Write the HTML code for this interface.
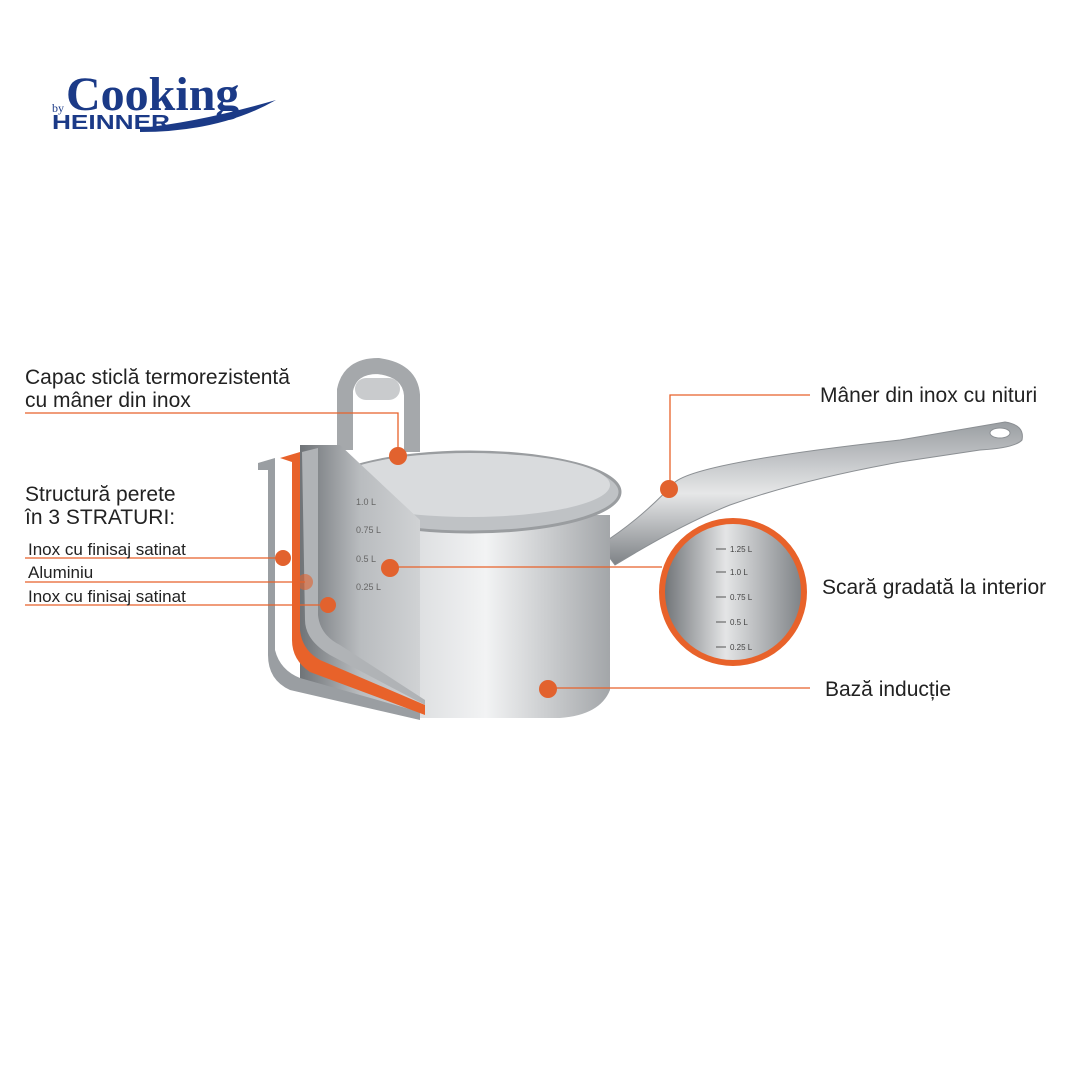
<!DOCTYPE html><html><head><meta charset="utf-8"><style>
body{margin:0;width:1080px;height:1080px;background:#fff;overflow:hidden;font-family:"Liberation Sans",sans-serif}
svg{position:absolute;left:0;top:0}
.t{font-size:21px;fill:#222}
</style></head><body>
<svg width="1080" height="1080" viewBox="0 0 1080 1080">
<defs>
<linearGradient id="steel" x1="0" x2="1" y1="0" y2="0">
<stop offset="0" stop-color="#8d9195"/><stop offset=".3" stop-color="#d6d8da"/><stop offset=".6" stop-color="#f2f3f4"/><stop offset="1" stop-color="#a3a6a9"/></linearGradient>
<linearGradient id="inner" x1="0" x2="1"><stop offset="0" stop-color="#6f7377"/><stop offset=".5" stop-color="#b9bcbf"/><stop offset="1" stop-color="#d0d2d4"/></linearGradient>
<linearGradient id="hd" x1="0" y1="1" x2="0" y2="0"><stop offset="0" stop-color="#7e8286"/><stop offset=".5" stop-color="#e6e7e8"/><stop offset="1" stop-color="#9a9ea2"/></linearGradient>
<linearGradient id="circ" x1="0" x2="1"><stop offset="0" stop-color="#6c7074"/><stop offset=".45" stop-color="#e4e5e6"/><stop offset="1" stop-color="#7c8084"/></linearGradient>
</defs>
<text x="66" y="110" font-family="Liberation Serif" font-weight="bold" font-size="48" fill="#1b3a87">Cooking</text>
<text x="52" y="112" font-family="Liberation Serif" font-size="12" fill="#1b3a87">by</text>
<text x="52" y="129" font-family="Liberation Sans" font-weight="bold" font-size="20" fill="#1b3a87" textLength="118" lengthAdjust="spacingAndGlyphs">HEINNER</text>
<path d="M140 128 Q200 122 276 100 Q220 132 140 132Z" fill="#1b3a87"/>
<path d="M600 545 Q640 520 675 482 Q700 462 900 440 L1005 422 Q1025 425 1022 440 Q1015 448 980 450 L900 462 Q800 480 730 505 Q680 525 615 565Z" fill="url(#hd)" stroke="#8b8f93" stroke-width="1"/>
<ellipse cx="1000" cy="433" rx="10" ry="5" fill="#fff" stroke="#8b8f93"/>
<path d="M300 515 L610 515 L610 690 Q600 715 560 718 L420 718 L300 640Z" fill="url(#steel)"/>
<ellipse cx="470" cy="492" rx="150" ry="40" fill="#bfc2c5" stroke="#9a9da0" stroke-width="3"/>
<ellipse cx="470" cy="485" rx="140" ry="32" fill="#d9dbdd"/>
<path d="M345 450 L345 390 Q350 366 378 366 Q410 370 412 395 L412 452" fill="none" stroke="#a5a8ab" stroke-width="16"/>
<rect x="355" y="378" width="45" height="22" rx="11" fill="#c9cbcd"/>
<path d="M300 445 L340 445 L420 520 L420 718 L340 700 L300 690Z" fill="url(#inner)"/>
<path d="M258 463 L275 458 L275 650 Q280 670 300 678 L420 712 L420 720 L290 690 Q268 680 268 655 L268 470 L258 470Z" fill="#9a9ea2"/>
<path d="M280 458 L300 452 L300 630 Q302 650 320 660 L425 705 L425 715 L310 672 Q292 660 292 640 L292 462Z" fill="#e8622a"/>
<path d="M302 452 L318 448 L318 615 Q320 635 340 645 L425 700 L425 705 L330 655 Q305 640 305 620Z" fill="#b0b3b6"/>
<g font-size="9" fill="#666"><text x="356" y="505">1.0 L</text><text x="356" y="533">0.75 L</text><text x="356" y="562">0.5 L</text><text x="356" y="590">0.25 L</text></g>
<circle cx="733" cy="592" r="71" fill="url(#circ)" stroke="#e8622a" stroke-width="6"/>
<g font-size="8" fill="#444"><text x="730" y="552">1.25 L</text><text x="730" y="575">1.0 L</text><text x="730" y="600">0.75 L</text><text x="730" y="625">0.5 L</text><text x="730" y="650">0.25 L</text></g>
<g stroke="#555"><line x1="716" y1="549" x2="726" y2="549"/><line x1="716" y1="572" x2="726" y2="572"/><line x1="716" y1="597" x2="726" y2="597"/><line x1="716" y1="622" x2="726" y2="622"/><line x1="716" y1="647" x2="726" y2="647"/></g>
<g stroke="#e8622a" stroke-width="1.3" fill="none">
<path d="M25 413 L398 413 L398 455"/>
<path d="M810 395 L670 395 L670 488"/>
<path d="M25 558 L283 558"/><path d="M25 582 L305 582"/><path d="M25 605 L328 605"/>
<path d="M390 567 L662 567"/>
<path d="M548 688 L810 688"/>
</g>
<g fill="#e2622e"><circle cx="398" cy="456" r="9"/><circle cx="669" cy="489" r="9"/><circle cx="283" cy="558" r="8"/><circle cx="305" cy="582" r="8" opacity=".6"/><circle cx="328" cy="605" r="8"/><circle cx="390" cy="568" r="9"/><circle cx="548" cy="689" r="9"/></g>
<g class="t">
<text x="25" y="384">Capac sticlă termorezistentă</text><text x="25" y="407">cu mâner din inox</text>
<text x="25" y="501">Structură perete</text><text x="25" y="524">în 3 STRATURI:</text>
<text x="28" y="555" font-size="17">Inox cu finisaj satinat</text>
<text x="28" y="578" font-size="17">Aluminiu</text>
<text x="28" y="602" font-size="17">Inox cu finisaj satinat</text>
<text x="820" y="402">Mâner din inox cu nituri</text>
<text x="822" y="594">Scară gradată la interior</text>
<text x="825" y="696">Bază inducție</text>
</g>
</svg>
</body></html>
